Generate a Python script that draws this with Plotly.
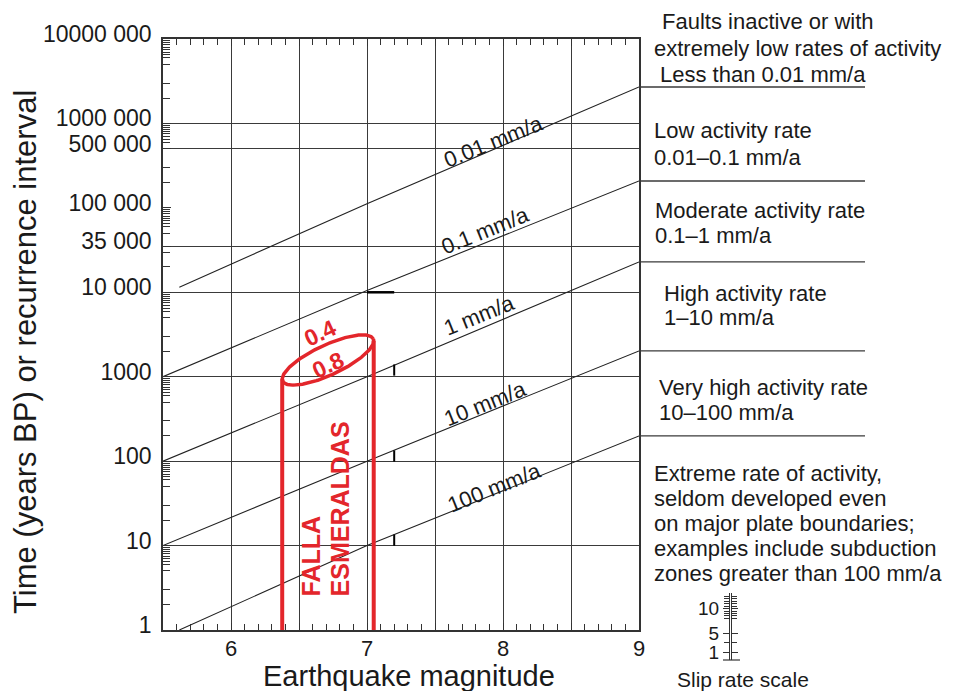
import numpy as np
import plotly.graph_objects as go

# page is drawn with an 8px body margin: figure fills the rest of the 972x691 window
OFF = 8
W, H = 972 - OFF, 691 - OFF
PL, PR, PT, PB = 163, 639, 39, 630   # plot area edges in window px


def fx(X):
    return (X - OFF) / W


def fy(Y):
    return 1 - (Y - OFF) / H


# ---------------- data ----------------
x_range = [5.5, 9.0]
y_log_range = [0, 7]

rate_labels = ["0.01 mm/a", "0.1 mm/a", "1 mm/a", "10 mm/a", "100 mm/a"]
line_mag = [
    [5.62, 7.0, 9.0],
    [5.5, 7.0, 9.0],
    [5.5, 7.0, 9.0],
    [5.5, 7.0, 9.0],
    [5.62, 7.0, 9.0],
]
line_time = [
    [11500, 112000, 2700000],
    [1000, 10500, 208000],
    [100, 1000, 22900],
    [10, 100, 2020],
    [1, 10, 199],
]
label_mag = [7.93, 7.87, 7.82, 7.87, 7.94]
label_logt = [5.79, 4.73, 3.73, 2.68, 1.69]

y_tick_vals = [1, 10, 100, 1000, 10000, 35000, 100000, 500000, 1000000, 10000000]
y_tick_text = ["1", "10", "100", "1000", "10 000", "35 000", "100 000",
               "500 000", "1000 000", "10000 000"]
y_grid_vals = [10, 100, 1000, 10000, 35000, 500000, 1000000]
y_minor_mult = [2, 3, 5, 6, 6.5, 7, 7.5, 8, 8.5, 9, 9.5]
x_tick_vals = [5.5, 6, 6.5, 7, 7.5, 8, 8.5, 9]
x_tick_text = ["", "6", "", "7", "", "8", "", "9"]

mark_mag = [7.2, 7.2, 7.2]
mark_time = [1200, 115, 11.6]
seg_mag = [7.0, 7.2]
seg_time = [10000, 10000]

slip_tick_vals = [1, 5, 10]
slip_minor_vals = [3, 8, 8.5, 9, 9.5, 10.5, 11, 11.5, 12, 12.5]

right_lines = [
    "Faults inactive or with",
    "extremely low rates of activity",
    "Less than 0.01 mm/a",
    "Low activity rate",
    "0.01\u20130.1 mm/a",
    "Moderate activity rate",
    "0.1\u20131 mm/a",
    "High activity rate",
    "1\u201310 mm/a",
    "Very high activity rate",
    "10\u2013100 mm/a",
    "Extreme rate of activity,",
    "seldom developed even",
    "on major plate boundaries;",
    "examples include subduction",
    "zones greater than 100 mm/a",
]
right_pos = [
    (660, 21), (652, 48), (658, 75),
    (652, 130), (652, 157),
    (653, 210), (653, 235),
    (662, 293), (662, 318),
    (657, 387), (657, 412),
    (652, 473), (652, 498), (652, 523), (652, 548), (652, 573),
]

# ---------------- styles ----------------
FONT = "Liberation Sans, Arial, Helvetica, sans-serif"
TXT = "#1a1a1a"
AXC = "#333333"
GRID = "#3a3a3a"
RED = "#e3262b"

fig = go.Figure()

# slip-rate lines
for m, t in zip(line_mag, line_time):
    fig.add_trace(go.Scatter(x=m, y=t, mode="lines",
                             line=dict(color="#222222", width=1.1),
                             hoverinfo="skip", showlegend=False))

# small black marks
fig.add_trace(go.Scatter(x=mark_mag, y=mark_time, mode="markers",
                         marker=dict(symbol="line-ns", size=8,
                                     line=dict(color="black", width=2)),
                         hoverinfo="skip", showlegend=False))
fig.add_trace(go.Scatter(x=seg_mag, y=seg_time, mode="lines",
                         line=dict(color="black", width=2.5),
                         hoverinfo="skip", showlegend=False))

# red FALLA ESMERALDAS cylinder
px_per_mag = (PR - PL) / (x_range[1] - x_range[0])
px_per_dec = (PB - PT) / (y_log_range[1] - y_log_range[0])
ell_mc, ell_lc = 6.713, 3.198
ell_a, ell_b, ell_th = 50.0, 15.0, np.deg2rad(25)
tt = np.linspace(0, 2 * np.pi, 241)
dx = ell_a * np.cos(tt) * np.cos(ell_th) - ell_b * np.sin(tt) * np.sin(ell_th)
dy = ell_a * np.cos(tt) * np.sin(ell_th) + ell_b * np.sin(tt) * np.cos(ell_th)
ell_m = ell_mc + dx / px_per_mag
ell_l = ell_lc + dy / px_per_dec
fig.add_trace(go.Scatter(x=ell_m, y=10 ** ell_l, mode="lines",
                         line=dict(color=RED, width=3.5),
                         hoverinfo="skip", showlegend=False))
iL, iR = int(np.argmin(ell_m)), int(np.argmax(ell_m))
for i in (iL, iR):
    fig.add_trace(go.Scatter(x=[ell_m[i], ell_m[i]], y=[10 ** ell_l[i], 0.9],
                             mode="lines", line=dict(color=RED, width=4),
                             hoverinfo="skip", showlegend=False))

# dummy traces for overlay grid axis and slip-rate scale axis
fig.add_trace(go.Scatter(x=[7], y=[10], yaxis="y3", mode="markers",
                         marker=dict(opacity=0), hoverinfo="skip", showlegend=False))
fig.add_trace(go.Scatter(x=[0.5], y=[5], xaxis="x2", yaxis="y2", mode="markers",
                         marker=dict(opacity=0), hoverinfo="skip", showlegend=False))

y_minor_vals = [mm * 10 ** d for d in range(7) for mm in y_minor_mult]

fig.update_layout(
    width=W, height=H,
    margin=dict(l=0, r=0, t=0, b=0, pad=0, autoexpand=False),
    paper_bgcolor="white", plot_bgcolor="white", showlegend=False,
    font=dict(family=FONT, color=TXT),
    xaxis=dict(domain=[fx(PL), fx(PR)], range=x_range, anchor="y", automargin=False,
               tickvals=x_tick_vals, ticktext=x_tick_text,
               ticks="inside", ticklen=7, tickcolor=AXC, tickwidth=1,
               showgrid=True, gridcolor=GRID, gridwidth=1.3,
               showline=True, linecolor=AXC, linewidth=1.5, mirror="ticks",
               zeroline=False, tickfont=dict(size=22, color=TXT),
               ticklabelstandoff=-2,
               minor=dict(dtick=0.1, tick0=5.5, ticks="inside", ticklen=6,
                          tickcolor=AXC, tickwidth=1, showgrid=False)),
    yaxis=dict(domain=[fy(PB), fy(PT)], type="log", range=y_log_range,
               anchor="x", automargin=False,
               tickvals=y_tick_vals, ticktext=y_tick_text,
               ticks="inside", ticklen=8, tickcolor=AXC, tickwidth=1,
               showgrid=False, showline=True, linecolor=AXC, linewidth=1.5,
               mirror=True, zeroline=False, tickfont=dict(size=23, color=TXT),
               ticklabelstandoff=5, ticklabelshift=-5,
               minor=dict(tickvals=y_minor_vals, ticks="inside", ticklen=7,
                          tickcolor=AXC, tickwidth=1, showgrid=False)),
    yaxis3=dict(overlaying="y", type="log", range=y_log_range, anchor="x",
                automargin=False,
                tickvals=y_grid_vals, showticklabels=False, ticks="",
                showgrid=True, gridcolor=GRID, gridwidth=1.3,
                showline=False, zeroline=False),
    xaxis2=dict(domain=[fx(730), fx(730.6)], anchor="y2", range=[0, 1],
                visible=False, automargin=False),
    yaxis2=dict(domain=[fy(660), fy(593)], anchor="x2",
                automargin=False,
                range=[-0.5, 13.2], tickvals=slip_tick_vals,
                ticks="outside", ticklen=6, tickcolor=AXC, tickwidth=1,
                showline=True, linecolor=AXC, linewidth=1, mirror="ticks",
                showgrid=False, zeroline=False,
                tickfont=dict(size=19, color=TXT),
                minor=dict(tickvals=slip_minor_vals, ticks="outside", ticklen=5,
                           tickcolor=AXC, tickwidth=1, showgrid=False)),
)

# horizontal continuation lines on the right
y0p, y1p = fy(PB), fy(PT)
for t in line_time:
    yp = y0p + (np.log10(t[-1]) - y_log_range[0]) / (y_log_range[1] - y_log_range[0]) * (y1p - y0p)
    fig.add_shape(type="line", xref="paper", yref="paper",
                  x0=fx(PR), x1=fx(865), y0=yp, y1=yp,
                  line=dict(color=GRID, width=1.3))

# slip-rate scale bottom bar
fig.add_shape(type="line", xref="paper", yref="paper",
              x0=fx(723), x1=fx(740), y0=fy(660), y1=fy(660),
              line=dict(color=AXC, width=1.2))

annots = []
# rate labels along lines
for txt, xm, yl in zip(rate_labels, label_mag, label_logt):
    annots.append(dict(x=xm, y=yl, xref="x", yref="y", text=txt, showarrow=False,
                       textangle=-22, font=dict(size=22, color=TXT, family=FONT)))
# right side descriptions
for txt, (xp, yp) in zip(right_lines, right_pos):
    annots.append(dict(x=fx(xp), y=fy(yp), xref="paper", yref="paper", text=txt,
                       showarrow=False, xanchor="left", yanchor="middle",
                       font=dict(size=22, color=TXT, family=FONT)))
# axis titles
annots.append(dict(x=fx(25), y=fy(352), xref="paper", yref="paper",
                   text="Time (years BP) or recurrence interval", showarrow=False,
                   textangle=-90, xanchor="center", yanchor="middle",
                   font=dict(size=31, color=TXT, family=FONT)))
annots.append(dict(x=fx(409), y=fy(676), xref="paper", yref="paper",
                   text="Earthquake magnitude", showarrow=False,
                   xanchor="center", yanchor="middle",
                   font=dict(size=29, color=TXT, family=FONT)))
annots.append(dict(x=fx(743), y=fy(679), xref="paper", yref="paper",
                   text="Slip rate scale", showarrow=False,
                   xanchor="center", yanchor="middle",
                   font=dict(size=21, color=TXT, family=FONT)))
# red annotations
annots.append(dict(x=6.654, y=3.518, xref="x", yref="y", text="<b>0.4</b>",
                   showarrow=False, textangle=-25,
                   font=dict(size=23, color=RED, family=FONT)))
annots.append(dict(x=6.713, y=3.139, xref="x", yref="y", text="<b>0.8</b>",
                   showarrow=False, textangle=-25,
                   font=dict(size=23, color=RED, family=FONT)))
annots.append(dict(x=6.588, y=0.379, xref="x", yref="y", text="<b>FALLA</b>",
                   showarrow=False, textangle=-90, xanchor="center", yanchor="bottom",
                   font=dict(size=25, color=RED, family=FONT)))
annots.append(dict(x=6.801, y=0.379, xref="x", yref="y", text="<b>ESMERALDAS</b>",
                   showarrow=False, textangle=-90, xanchor="center", yanchor="bottom",
                   font=dict(size=25, color=RED, family=FONT)))
fig.update_layout(annotations=annots)

fig.write_html("out.html")
